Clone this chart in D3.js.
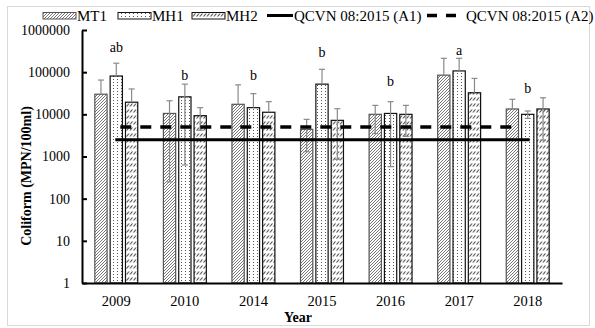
<!DOCTYPE html>
<html><head><meta charset="utf-8">
<script src="https://cdn.jsdelivr.net/npm/d3@7"></script>
<style>body{margin:0;background:#fff}svg{display:block}svg text{font-family:'Liberation Serif','DejaVu Serif',serif !important;fill:#000}</style>
</head><body>
<svg id="c" width="595" height="328"></svg>
<script>
const years = ["2009","2010","2014","2015","2016","2017","2018"];
const seriesNames = ["MT1","MH1","MH2"];
const MT1 = [30000, 10500, 17300, 4400, 10000, 85000, 13400];
const MT1_hi = [65000, 21000, 50000, 7600, 16300, 213000, 22700];
const MT1_lo = [null, 250, null, 1300, 3500, null, null];
const MH1 = [81000, 26000, 14400, 52000, 10500, 107000, 10000];
const MH1_hi = [163000, 52000, 31000, 117000, 20000, 213000, 12000];
const MH1_lo = [null, 630, null, null, 575, null, 8000];
const MH2 = [19400, 9300, 11200, 7200, 10000, 32500, 13400];
const MH2_hi = [40000, 14400, 20000, 13600, 16300, 71000, 24700];
const MH2_lo = [null, 4200, null, 860, 3000, null, 2450];
const letters = ["ab","b","b","b","b","a","b"];
const letterAt = [400000, 85000, 85000, 300000, 62000, 340000, 42000];
const yTicks = [1, 10, 100, 1000, 10000, 100000, 1000000];
const limitA1 = 2500, limitA2 = 5000;
const limitNames = ["QCVN 08:2015 (A1)", "QCVN 08:2015 (A2)"];

const values = {MT1, MH1, MH2};
const his = {MT1: MT1_hi, MH1: MH1_hi, MH2: MH2_hi};
const los = {MT1: MT1_lo, MH1: MH1_lo, MH2: MH2_lo};

const FONT = "'Liberation Serif','DejaVu Serif',serif";
const svg = d3.select("#c").attr("font-family", FONT);
const L = 82, R = 562, T = 30, B = 283;

// frame
svg.append("rect").attr("x",7.5).attr("y",6.5).attr("width",582).attr("height",319)
  .attr("fill","none").attr("stroke","#d9d9d9");

// patterns
const defs = svg.append("defs");
const p1 = defs.append("pattern").attr("id","pMT1").attr("patternUnits","userSpaceOnUse")
  .attr("width",3).attr("height",3);
p1.append("rect").attr("width",3).attr("height",3).attr("fill","#fff");
p1.append("path").attr("d","M-1,1 L1,-1 M0,3 L3,0 M2,4 L4,2").attr("stroke","#555").attr("stroke-width",0.8);

const p2 = defs.append("pattern").attr("id","pMH1").attr("patternUnits","userSpaceOnUse")
  .attr("width",4).attr("height",3);
p2.append("rect").attr("width",4).attr("height",3).attr("fill","#fff");
p2.append("rect").attr("x",1).attr("y",1).attr("width",1).attr("height",1).attr("fill","#555");

const p3 = defs.append("pattern").attr("id","pMH2").attr("patternUnits","userSpaceOnUse")
  .attr("width",3.5).attr("height",6);
p3.append("rect").attr("width",3.5).attr("height",6).attr("fill","#fff");
p3.append("path").attr("d","M0.5,4.5 L3,1.5").attr("stroke","#222").attr("stroke-width",0.9);

const fills = {MT1:"url(#pMT1)", MH1:"url(#pMH1)", MH2:"url(#pMH2)"};
const strokes = {MT1:"#555", MH1:"#111", MH2:"#111"};

const x0 = d3.scaleBand().domain(years).range([L, R]).padding(0);
const groupW = 46;
const x1 = d3.scaleBand().domain(seriesNames).range([0, groupW]).paddingInner(0.2).paddingOuter(0.1);
const y = d3.scaleLog().domain([1, 1e6]).range([B, T]);

// bars
seriesNames.forEach(s => {
  const g = svg.append("g");
  years.forEach((yr, i) => {
    const bx = x0(yr) + (x0.bandwidth() - groupW)/2 + x1(s);
    g.append("rect").attr("x", bx).attr("y", y(values[s][i]))
      .attr("width", x1.bandwidth()).attr("height", y(1) - y(values[s][i]))
      .attr("fill", fills[s]).attr("stroke", strokes[s]).attr("stroke-width", 1.2);
  });
});

// error bars
seriesNames.forEach(s => {
  years.forEach((yr, i) => {
    const cx = x0(yr) + (x0.bandwidth() - groupW)/2 + x1(s) + x1.bandwidth()/2;
    const v = values[s][i], hi = his[s][i], lo = los[s][i];
    const yLo = lo == null ? y(v) : y(lo);
    svg.append("line").attr("x1",cx).attr("x2",cx).attr("y1",y(hi)).attr("y2",yLo)
      .attr("stroke","#8a8a8a").attr("stroke-width",1.2);
    svg.append("line").attr("x1",cx-3).attr("x2",cx+3).attr("y1",y(hi)).attr("y2",y(hi))
      .attr("stroke","#8a8a8a").attr("stroke-width",1.2);
    if (lo != null) svg.append("line").attr("x1",cx-3).attr("x2",cx+3).attr("y1",y(lo)).attr("y2",y(lo))
      .attr("stroke","#8a8a8a").attr("stroke-width",1.2);
  });
});

// limit lines
const xa = x0(years[0]) + x0.bandwidth()/2, xb = x0(years[years.length-1]) + x0.bandwidth()/2;
svg.append("line").attr("x1",xa-1).attr("x2",xb+2).attr("y1",y(limitA1)).attr("y2",y(limitA1))
  .attr("stroke","#000").attr("stroke-width",3);
svg.append("line").attr("x1",xa+4).attr("x2",xb-8).attr("y1",y(limitA2)).attr("y2",y(limitA2))
  .attr("stroke","#000").attr("stroke-width",3.5).attr("stroke-dasharray","11,9");

// letters
years.forEach((yr, i) => {
  svg.append("text").attr("x", x0(yr) + x0.bandwidth()/2).attr("y", y(letterAt[i]))
    .attr("dy","0.35em").attr("text-anchor","middle").attr("font-size",14).text(letters[i]);
});

// axes
const yAxis = d3.axisLeft(y).tickValues(yTicks).tickFormat(d3.format("d")).tickSizeInner(-5).tickSizeOuter(0).tickPadding(12);
const ga = svg.append("g").attr("transform",`translate(${L},0)`).call(yAxis).attr("font-family", FONT);
ga.select(".domain").attr("stroke","#000").attr("stroke-width",2);
ga.selectAll(".tick line").attr("stroke","#000").attr("stroke-width",2);
ga.selectAll(".tick text").attr("font-size",14).attr("fill","#000");

const xAxis = d3.axisBottom(x0).tickSize(0).tickSizeOuter(0).tickPadding(13);
const gx = svg.append("g").attr("transform",`translate(0,${B})`).call(xAxis).attr("font-family", FONT);
gx.select(".domain").attr("stroke","#000").attr("stroke-width",2);
gx.selectAll(".tick text").attr("font-size",14.5).attr("fill","#000");

// axis titles
svg.append("text").attr("x",298).attr("y",322).attr("text-anchor","middle")
  .attr("font-size",14).attr("font-weight","bold").text("Year");
svg.append("text").attr("transform","translate(31,176) rotate(-90)").attr("text-anchor","middle")
  .attr("font-size",14).attr("font-weight","bold").text("Coliform (MPN/100ml)");

// legend
const lg = svg.append("g").attr("font-size",15);
const legX = [43, 118, 192];
seriesNames.forEach((s, i) => {
  lg.append("rect").attr("x",legX[i]).attr("y",12.5).attr("width",33).attr("height",6.5)
    .attr("fill",fills[s]).attr("stroke",strokes[s]).attr("stroke-width",1);
  lg.append("text").attr("x",legX[i]+34).attr("y",20.5).text(s);
});
lg.append("line").attr("x1",267).attr("x2",293).attr("y1",15.5).attr("y2",15.5).attr("stroke","#000").attr("stroke-width",3);
lg.append("text").attr("x",294).attr("y",20.5).text(limitNames[0]);
lg.append("line").attr("x1",427).attr("x2",456).attr("y1",15.5).attr("y2",15.5).attr("stroke","#000").attr("stroke-width",3.5).attr("stroke-dasharray","10,9");
lg.append("text").attr("x",466).attr("y",20.5).text(limitNames[1]);
</script>
</body></html>
